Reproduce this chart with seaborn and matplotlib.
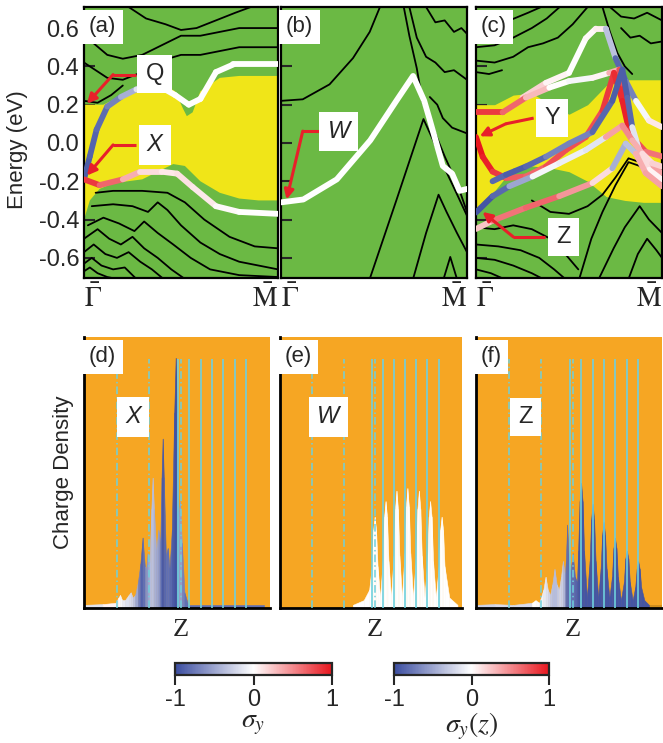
import numpy as np
import seaborn as sns
import matplotlib
import matplotlib.pyplot as plt
from matplotlib.collections import LineCollection

sns.set_style("white")
plt.rcParams['font.family'] = ['Liberation Sans', 'DejaVu Sans']
plt.rcParams['mathtext.fontset'] = 'stix'

GREEN = '#6bb944'
YELLOW = '#f0e518'
ORANGE = '#f6a623'
CYAN = '#6fd0dc'
RED = '#e8202a'

cmap = sns.blend_palette(['#3b4da0', '#ffffff', '#e8161e'], as_cmap=True)

# ---------------- panel (a) ----------------
a_top_k = [0, 0.1, 0.2, 0.3, 0.4, 0.47, 0.51, 0.53, 0.56, 0.6, 0.7, 0.8, 1.0]
a_top_e = [0.2, 0.2, 0.25, 0.29, 0.31, 0.27, 0.18, 0.14, 0.16, 0.27, 0.34, 0.35, 0.35]
a_bot_k = [0, 0.03, 0.08, 0.15, 0.3, 0.4, 0.46, 0.52, 0.6, 0.7, 0.8, 0.9, 1.0]
a_bot_e = [-0.4, -0.3, -0.24, -0.21, -0.19, -0.14, -0.11, -0.12, -0.2, -0.26, -0.29, -0.3, -0.3]

bands_a = [
    ([0.23, 0.32, 0.42, 0.5, 0.58, 0.68, 0.78, 0.86], [0.71, 0.65, 0.62, 0.59, 0.6, 0.64, 0.68, 0.71]),
    ([0.05, 0.12, 0.2, 0.3, 0.4, 0.5, 0.6, 0.7, 0.8, 0.9, 1.0], [0.52, 0.46, 0.44, 0.46, 0.51, 0.56, 0.56, 0.58, 0.6, 0.6, 0.6]),
    ([0.0, 0.06, 0.12, 0.2, 0.3, 0.4, 0.5, 0.6, 0.7, 0.8, 0.9, 1.0], [0.42, 0.38, 0.34, 0.33, 0.37, 0.43, 0.46, 0.46, 0.48, 0.5, 0.5, 0.5]),
    ([0.0, 0.07, 0.14, 0.2], [0.22, 0.21, 0.25, 0.3]),
    ([0.06, 0.15, 0.3, 0.43, 0.52, 0.62, 0.75, 0.88, 1.0], [-0.26, -0.25, -0.25, -0.26, -0.31, -0.4, -0.49, -0.54, -0.55]),
    ([0.04, 0.15, 0.25, 0.33, 0.38, 0.43, 0.5, 0.6, 0.7, 0.8, 1.0], [-0.33, -0.32, -0.33, -0.36, -0.31, -0.35, -0.43, -0.52, -0.58, -0.62, -0.66]),
    ([0.02, 0.1, 0.18, 0.26, 0.31, 0.38, 0.46, 0.55, 0.65, 0.8, 1.0], [-0.43, -0.39, -0.42, -0.46, -0.41, -0.47, -0.53, -0.6, -0.66, -0.69, -0.7]),
    ([0.0, 0.07, 0.13, 0.19, 0.25, 0.31, 0.38, 0.45, 0.52], [-0.5, -0.45, -0.5, -0.53, -0.49, -0.55, -0.6, -0.66, -0.71]),
    ([0.0, 0.05, 0.11, 0.17, 0.23, 0.29, 0.35, 0.41], [-0.57, -0.53, -0.58, -0.6, -0.57, -0.62, -0.66, -0.71]),
    ([0.0, 0.04, 0.09, 0.15, 0.21, 0.27], [-0.63, -0.6, -0.64, -0.66, -0.65, -0.71]),
    ([0.0, 0.03, 0.07, 0.12, 0.17], [-0.67, -0.65, -0.68, -0.7, -0.71]),
]
# surface bands (k, E, sigma_y)
color_a = [
    ([0, 0.03, 0.065, 0.12, 0.19, 0.27, 0.4, 0.47, 0.54, 0.6, 0.68, 0.77, 1.0],
     [-0.19, -0.07, 0.07, 0.19, 0.24, 0.28, 0.29, 0.25, 0.2, 0.23, 0.37, 0.41, 0.41],
     [-0.9, -0.9, -0.85, -0.8, -0.6, -0.3, 0, 0, 0, 0, 0, 0, 0]),
    ([0, 0.08, 0.2, 0.29, 0.4, 0.48, 0.56, 0.68, 0.8, 1.0],
     [-0.19, -0.22, -0.19, -0.15, -0.15, -0.16, -0.23, -0.33, -0.36, -0.37],
     [0.9, 0.8, 0.5, 0.2, 0.1, 0.1, 0.15, 0.05, 0, 0]),
]

# ---------------- panel (b) ----------------
bands_b = [
    ([0, 0.117, 0.261, 0.387, 0.477, 0.532], [0.22, 0.228, 0.306, 0.443, 0.58, 0.71]),
    ([0.66, 0.69, 0.73, 0.76, 0.8, 0.88, 0.95, 1.0], [0.71, 0.56, 0.39, 0.22, 0.12, -0.07, -0.22, -0.36]),
    ([0.69, 0.73, 0.78, 0.83, 0.88, 0.93, 1.0], [0.71, 0.55, 0.45, 0.42, 0.37, 0.38, 0.33]),
    ([0.78, 0.83, 0.88, 0.93, 0.97, 1.0], [0.71, 0.63, 0.64, 0.58, 0.6, 0.57]),
    ([0.8, 0.84, 0.87, 0.92, 1.0], [0.24, 0.2, 0.13, 0.08, 0.05]),
    ([0.477, 0.62, 0.766, 0.82, 0.874, 0.928, 1.0], [-0.71, -0.3, 0.125, 0.01, -0.12, -0.23, -0.38]),
    ([0.71, 0.78, 0.847, 0.89, 0.946, 1.0], [-0.71, -0.47, -0.27, -0.36, -0.47, -0.57]),
    ([0.874, 0.91, 0.946], [-0.71, -0.595, -0.71]),
]
w_k = [0, 0.12, 0.3, 0.48, 0.62, 0.71, 0.77, 0.8, 0.87, 0.92, 0.96, 1.0]
w_e = [-0.31, -0.295, -0.19, 0.014, 0.22, 0.35, 0.22, 0.12, -0.12, -0.16, -0.25, -0.24]

# ---------------- panel (c) ----------------
c_top_k = [0, 0.1, 0.2, 0.3, 0.4, 0.5, 0.6, 0.7, 0.8, 0.9, 1.0]
c_top_e = [0.2, 0.2, 0.25, 0.26, 0.2, 0.15, 0.2, 0.3, 0.33, 0.33, 0.33]
c_bot_e = [-0.37, -0.25, -0.13, -0.12, -0.13, -0.15, -0.2, -0.28, -0.3, -0.31, -0.31]

bands_c = [
    ([0.0, 0.08, 0.18, 0.28, 0.35], [0.58, 0.6, 0.64, 0.68, 0.71]),
    ([0.0, 0.1, 0.2, 0.3, 0.38, 0.45], [0.5, 0.51, 0.55, 0.6, 0.65, 0.71]),
    ([0.0, 0.1, 0.2, 0.28, 0.36, 0.44, 0.52, 0.6], [0.43, 0.42, 0.45, 0.5, 0.52, 0.55, 0.62, 0.71]),
    ([0.0, 0.07, 0.14], [0.37, 0.36, 0.38]),
    ([0.68, 0.72, 0.76, 0.8, 0.84], [0.71, 0.58, 0.47, 0.4, 0.36]),
    ([0.72, 0.78, 0.85, 0.92, 1.0], [0.71, 0.66, 0.65, 0.68, 0.64]),
    ([0.78, 0.83, 0.88, 0.94, 1.0], [0.6, 0.55, 0.56, 0.52, 0.53]),
    ([0.0, 0.1, 0.2, 0.3, 0.4, 0.48, 0.55], [-0.44, -0.45, -0.43, -0.45, -0.5, -0.58, -0.66]),
    ([0.0, 0.12, 0.24, 0.34, 0.42, 0.48], [-0.53, -0.54, -0.56, -0.6, -0.66, -0.71]),
    ([0.0, 0.1, 0.2, 0.3, 0.36], [-0.6, -0.61, -0.64, -0.68, -0.71]),
    ([0.0, 0.08, 0.15], [-0.66, -0.68, -0.71]),
    ([0.3, 0.4, 0.5, 0.6, 0.68, 0.75, 0.82, 0.88, 0.94, 1.0], [-0.3, -0.36, -0.37, -0.33, -0.27, -0.18, -0.08, -0.1, -0.16, -0.21]),
    ([0.555, 0.62, 0.68, 0.75, 0.82, 0.88, 0.94, 1.0], [-0.71, -0.5, -0.36, -0.22, -0.1, -0.12, -0.18, -0.22]),
    ([0.66, 0.74, 0.8, 0.88, 0.93, 1.0], [-0.71, -0.55, -0.44, -0.33, -0.4, -0.47]),
    ([0.82, 0.87, 0.92, 0.97, 1.0], [-0.71, -0.58, -0.5, -0.56, -0.6]),
]
color_c = [
    ([0.25, 0.376, 0.5, 0.59, 0.644, 0.698, 0.75, 0.805, 0.86, 0.93, 1.0],
     [0.237, 0.314, 0.366, 0.546, 0.597, 0.597, 0.443, 0.323, 0.22, 0.117, 0.083],
     [0.3, 0.1, 0, 0, 0.05, 0.1, -0.8, -0.9, -0.5, 0.4, -0.2]),
    ([0, 0.143, 0.268, 0.394, 0.5, 0.626, 0.716, 0.77, 0.796, 0.814, 0.84, 0.912, 1.0],
     [0.16, 0.16, 0.237, 0.289, 0.323, 0.34, 0.366, 0.383, 0.289, 0.168, 0.031, -0.046, -0.07],
     [0.9, 0.8, 0.5, 0.1, -0.1, 0, 0.1, 0.6, 0.9, 0.9, 0.8, 0.7, 0.5]),
    ([0, 0.036, 0.089, 0.161, 0.268, 0.376, 0.483, 0.59, 0.68, 0.742, 0.787, 0.823, 0.877, 0.94, 1.0],
     [0.031, -0.072, -0.149, -0.183, -0.175, -0.123, -0.037, 0.031, 0.168, 0.366, 0.22, 0.066, -0.037, -0.123, -0.157],
     [1, 1, 0.9, 0.8, 0.6, 0.7, 0.8, 0.7, 0.8, 0.9, 0.9, 1, 0.7, 0.2, 0.6]),
    ([0.089, 0.161, 0.268, 0.376, 0.5, 0.626, 0.733, 0.787, 0.814, 0.84, 0.877, 0.93, 1.0],
     [-0.2, -0.166, -0.123, -0.072, -0.003, 0.057, 0.22, 0.383, 0.237, 0.083, -0.037, -0.14, -0.192],
     [-0.8, -0.9, -0.9, -0.8, -0.6, -0.8, -0.9, -0.9, -0.9, -0.8, 0.5, -0.2, 0.3]),
    ([0, 0.089, 0.179, 0.304, 0.447, 0.59, 0.698, 0.787, 0.84, 0.894, 0.948, 1.0],
     [-0.363, -0.278, -0.226, -0.175, -0.106, -0.037, 0.031, 0.091, 0.014, -0.055, -0.106, -0.123],
     [-1, -0.9, -0.8, -0.2, 0.1, -0.3, 0, 0.8, 0.2, 0.5, -0.2, 0.6]),
    ([0, 0.089, 0.268, 0.447, 0.626, 0.733, 0.805, 0.859, 0.912, 1.0],
     [-0.449, -0.406, -0.338, -0.278, -0.209, -0.132, -0.003, -0.055, -0.157, -0.226],
     [0, 0.5, 0.7, 0.6, 0.3, 0, -0.9, 0.2, 0.5, 0.3]),
]

# ---------------- charge density (d), (e), (f) ----------------
dash_z = [0.177, 0.352, 0.52]
layer_z = [0.505, 0.566, 0.627, 0.688, 0.749, 0.81, 0.871]

z_d = [0.0, 0.1, 0.17, 0.185, 0.194, 0.205, 0.22, 0.24, 0.251, 0.262,
       0.275, 0.29, 0.303, 0.315, 0.327, 0.334, 0.342, 0.352, 0.362, 0.369,
       0.376, 0.388, 0.40, 0.41, 0.417, 0.423, 0.429, 0.44, 0.45, 0.46,
       0.472, 0.485, 0.493, 0.501, 0.508, 0.516, 0.526, 0.54, 0.56, 0.97]
rho_d = [0.012, 0.015, 0.02, 0.04, 0.05, 0.03, 0.03, 0.05, 0.06, 0.04,
         0.05, 0.1, 0.17, 0.27, 0.16, 0.15, 0.21, 0.17, 0.38, 0.5,
         0.38, 0.22, 0.3, 0.25, 0.5, 0.65, 0.5, 0.2, 0.23, 0.15,
         0.3, 0.75, 0.96, 0.75, 0.35, 0.41, 0.25, 0.06, 0.012, 0.012]
sig_d = [-0.3, 0, 0.1, 0.05, 0, -0.1, -0.15, -0.2, -0.2, -0.3,
         -0.4, -0.6, -0.85, -0.9, -0.7, -0.6, -0.6, -0.4, -0.35, -0.35,
         -0.4, -0.5, -0.5, -0.7, -0.9, -0.95, -0.9, -0.8, -0.8, -0.8,
         -0.9, -0.95, -1, -0.95, -0.6, -0.5, -0.6, -0.8, -0.8, -0.8]

z_e = [0.40, 0.46, 0.49,
       0.504, 0.512, 0.52, 0.528, 0.536, 0.55,
       0.564, 0.572, 0.58, 0.588, 0.596, 0.61,
       0.624, 0.632, 0.64, 0.648, 0.656, 0.67,
       0.684, 0.692, 0.70, 0.708, 0.716, 0.731,
       0.747, 0.755, 0.763, 0.771, 0.779, 0.794,
       0.809, 0.817, 0.825, 0.833, 0.841, 0.856,
       0.872, 0.88, 0.888, 0.896, 0.904, 0.93, 0.975]
rho_e = [0.012, 0.03, 0.07,
         0.16, 0.30, 0.35, 0.30, 0.16, 0.04,
         0.18, 0.35, 0.41, 0.35, 0.18, 0.04,
         0.20, 0.38, 0.45, 0.38, 0.20, 0.04,
         0.21, 0.39, 0.46, 0.39, 0.21, 0.04,
         0.20, 0.38, 0.45, 0.38, 0.20, 0.04,
         0.18, 0.35, 0.41, 0.35, 0.18, 0.04,
         0.16, 0.30, 0.35, 0.30, 0.16, 0.04, 0.012]
sig_e = [0.0] * len(z_e)

z_f = [0.0, 0.1, 0.2, 0.3, 0.32, 0.34, 0.362, 0.374, 0.386, 0.398,
       0.41, 0.422, 0.434, 0.446, 0.457, 0.467, 0.477, 0.483, 0.49, 0.5,
       0.508, 0.52, 0.532,
       0.543, 0.549, 0.557, 0.565, 0.573, 0.581, 0.596,
       0.611, 0.619, 0.627, 0.635, 0.643, 0.657,
       0.67, 0.678, 0.686, 0.694, 0.702, 0.717,
       0.731, 0.739, 0.747, 0.755, 0.763, 0.779,
       0.795, 0.803, 0.811, 0.819, 0.827, 0.842,
       0.856, 0.864, 0.872, 0.88, 0.888, 0.905, 0.93]
rho_f = [0.012, 0.015, 0.012, 0.02, 0.03, 0.02, 0.07, 0.12, 0.07, 0.05,
         0.09, 0.15, 0.09, 0.07, 0.12, 0.18, 0.13, 0.18, 0.32, 0.16,
         0.14, 0.21, 0.12,
         0.1, 0.22, 0.41, 0.48, 0.41, 0.22, 0.04,
         0.18, 0.34, 0.40, 0.34, 0.18, 0.04,
         0.15, 0.28, 0.33, 0.28, 0.15, 0.04,
         0.12, 0.23, 0.27, 0.23, 0.12, 0.03,
         0.10, 0.19, 0.22, 0.19, 0.10, 0.03,
         0.08, 0.15, 0.18, 0.15, 0.08, 0.03, 0.012]
sig_f = [-0.5, 0, -0.4, 0, 0, -0.05, -0.1, -0.15, -0.2, -0.3,
         -0.35, -0.4, -0.35, -0.25, -0.25, -0.3, -0.5, -0.8, -0.85, -0.8,
         -0.8, -0.8, -0.85,
         -0.9, -0.95, -0.95, -0.95, -0.95, -0.95, -0.95,
         -0.95, -0.95, -0.95, -0.95, -0.95, -0.95,
         -0.95, -0.95, -0.95, -0.95, -0.95, -0.95,
         -0.95, -0.95, -0.95, -0.95, -0.95, -0.95,
         -0.95, -0.95, -0.95, -0.95, -0.95, -0.95,
         -0.95, -0.95, -0.95, -0.95, -0.95, -0.95, -0.95]

e_ticks = [-0.6, -0.4, -0.2, 0.0, 0.2, 0.4, 0.6]

# ---------------- drawing helpers ----------------
def band_panel(ax, bands, ylabels=False):
    ax.set_facecolor(GREEN)
    for k, e in bands:
        sns.lineplot(x=k, y=e, ax=ax, color='black', lw=1.3, sort=False, estimator=None, zorder=2)
    ax.set_xlim(0, 1)
    ax.set_ylim(-0.705, 0.71)
    ax.set_yticks(e_ticks)
    ax.set_xticks([])
    ax.tick_params(axis='y', direction='in', length=8, width=1.5, labelsize=17,
                   labelleft=ylabels, left=True)
    ax.set_yticklabels(['%.1f' % t for t in e_ticks] if ylabels else [])
    for s in ax.spines.values():
        s.set_color('black')
        s.set_linewidth(1.6)
    ax.text(0, -0.025, r'$\bar{\Gamma}$', transform=ax.transAxes, ha='left', va='top', fontsize=20)
    ax.text(1, -0.025, r'$\bar{\mathrm{M}}$', transform=ax.transAxes, ha='right', va='top', fontsize=20)


def color_band(ax, k, e, s, lw=4.2):
    pts = np.column_stack([k, e])
    segs = np.stack([pts[:-1], pts[1:]], axis=1)
    sm = (np.asarray(s[:-1]) + np.asarray(s[1:])) / 2
    lc = LineCollection(segs, colors=cmap((sm + 1) / 2), linewidths=lw, capstyle='round', zorder=4)
    ax.add_collection(lc)


def tag(ax, x, y, txt, italic=False, coords='data', size=17):
    tr = ax.transAxes if coords == 'axes' else ax.transData
    ax.text(x, y, txt, transform=tr, ha='center', va='center', fontsize=size,
            style='italic' if italic else 'normal', zorder=7,
            bbox=dict(boxstyle='square,pad=0.35', fc='white', ec='none'))


def panel_label(ax, txt):
    ax.text(0.025, 0.965, txt, transform=ax.transAxes, ha='left', va='top', fontsize=16, zorder=7,
            bbox=dict(boxstyle='square,pad=0.3', fc='white', ec='none'))


def red_arrow(ax, start, bend, tip):
    ax.plot([start[0], bend[0]], [start[1], bend[1]], color=RED, lw=2.2, zorder=6, solid_capstyle='butt')
    ax.annotate('', xy=tip, xytext=bend, zorder=6,
                arrowprops=dict(arrowstyle='-|>', color=RED, lw=2.2, mutation_scale=14, shrinkA=0, shrinkB=0))


def density_panel(ax, z, rho, sig, label, tag_txt, italic):
    ax.set_facecolor(ORANGE)
    for i in range(len(z) - 1):
        c = cmap((sig[i] + sig[i + 1]) / 4 + 0.5)
        ax.fill_between(z[i:i + 2], 0, rho[i:i + 2], color=c, lw=0.4, zorder=2)
    ax.vlines(dash_z, 0, 0.955, colors=CYAN, lw=1.1, linestyles=(0, (5, 2, 1, 2)), zorder=3)
    ax.vlines(layer_z, 0, 0.955, colors=CYAN, lw=1.2, zorder=3)
    ax.set_xlim(0, 1)
    ax.set_ylim(0, 1.04)
    ax.set_xticks([])
    ax.set_yticks([])
    for side in ['top', 'right']:
        ax.spines[side].set_visible(False)
    for side in ['left', 'bottom']:
        ax.spines[side].set_color('black')
        ax.spines[side].set_linewidth(2)
    ax.text(0.52, -0.04, 'Z', transform=ax.transAxes, ha='center', va='top', fontsize=19,
            family='Liberation Serif')
    panel_label(ax, label)
    tag(ax, 0.265, 0.705, tag_txt, italic=italic, coords='axes')


# ---------------- figure ----------------
W, H = 663, 743
fig = plt.figure(figsize=(W / 100, H / 100), dpi=100)

def px_axes(x0, y0, x1, y1):
    return fig.add_axes([x0 / W, 1 - y1 / H, (x1 - x0) / W, (y1 - y0) / H])

ax_a = px_axes(84, 7, 278, 278)
ax_b = px_axes(281, 7, 467, 278)
ax_c = px_axes(476, 7, 662, 278)
ax_d = px_axes(84, 337, 270, 608)
ax_e = px_axes(280, 337, 462, 608)
ax_f = px_axes(476, 337, 662, 608)

# (a)
band_panel(ax_a, bands_a, ylabels=True)
ax_a.fill(a_top_k + a_bot_k[::-1], a_top_e + a_bot_e[::-1], color=YELLOW, lw=0, zorder=1)
for k, e, s in color_a:
    color_band(ax_a, k, e, s)
panel_label(ax_a, '(a)')
tag(ax_a, 0.365, 0.36, 'Q')
tag(ax_a, 0.365, -0.01, 'X', italic=True)
red_arrow(ax_a, (0.27, 0.357), (0.15, 0.357), (0.015, 0.205))
red_arrow(ax_a, (0.27, -0.01), (0.15, -0.01), (0.015, -0.17))

# (b)
band_panel(ax_b, bands_b)
sns.lineplot(x=w_k, y=w_e, ax=ax_b, color='white', lw=4.2, sort=False, estimator=None, zorder=4)
panel_label(ax_b, '(b)')
tag(ax_b, 0.31, 0.06, 'W', italic=True)
red_arrow(ax_b, (0.21, 0.062), (0.117, 0.062), (0.03, -0.295))

# (c)
band_panel(ax_c, bands_c)
ax_c.fill_between(c_top_k, c_bot_e, c_top_e, color=YELLOW, lw=0, zorder=1)
for k, e, s in color_c:
    color_band(ax_c, k, e, s)
panel_label(ax_c, '(c)')
tag(ax_c, 0.41, 0.13, 'Y')
tag(ax_c, 0.47, -0.49, 'Z')
red_arrow(ax_c, (0.31, 0.13), (0.16, 0.1), (0.02, 0.035))
red_arrow(ax_c, (0.37, -0.49), (0.2, -0.49), (0.035, -0.36))

# (d)-(f)
density_panel(ax_d, z_d, rho_d, sig_d, '(d)', 'X', True)
density_panel(ax_e, z_e, rho_e, sig_e, '(e)', 'W', True)
density_panel(ax_f, z_f, rho_f, sig_f, '(f)', 'Z', False)
ax_f.axhline(0.006, color='#c98a1c', lw=1.2, zorder=1)

fig.text(18 / W, 1 - 150 / H, 'Energy (eV)', rotation=90, ha='center', va='center', fontsize=16)
fig.text(64 / W, 1 - 472 / H, 'Charge Density', rotation=90, ha='center', va='center', fontsize=16)

# colorbars
norm = matplotlib.colors.Normalize(-1, 1)
for (x0, x1), lab in [((175, 332), r'$\sigma_y$'), ((394, 549), r'$\sigma_y(z)$')]:
    cax = px_axes(x0, 663, x1, 675)
    cb = fig.colorbar(matplotlib.cm.ScalarMappable(norm=norm, cmap=cmap), cax=cax, orientation='horizontal')
    cb.set_ticks([-1, 0, 1])
    cb.set_ticklabels(['-1', '0', '1'])
    cb.outline.set_linewidth(1.6)
    cax.tick_params(length=7, width=1.5, labelsize=17, pad=3)
    cb.set_label(lab, fontsize=20, labelpad=0)

fig.savefig('out.png', dpi=100)
